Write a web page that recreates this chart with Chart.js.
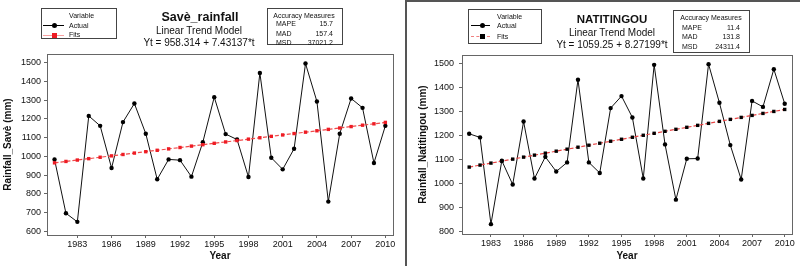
<!DOCTYPE html>
<html>
<head>
<meta charset="utf-8">
<script src="https://cdn.jsdelivr.net/npm/chart.js@4"></script>
<style>
  body { margin: 0; background: #fff; font-family: "Liberation Sans", Arial, sans-serif; }
  #page { position: relative; width: 800px; height: 266px; overflow: hidden; }
  canvas { position: absolute; top: 0; }
  .c { position: absolute; white-space: nowrap; transform: translate(-50%, -50%); color: #111; }
  .l { position: absolute; white-space: nowrap; transform: translate(0, -50%); color: #111; }
  .r { position: absolute; white-space: nowrap; transform: translate(-100%, -50%); color: #111; }
  .box { position: absolute; border: 1px solid #444; background: #fff; overflow: hidden; }
  .small { font-size: 7px; }
  .ln { position: absolute; height: 0; }
</style>
</head>
<body>
<div id="page">
  <canvas id="save" width="400" height="266" style="left:0"></canvas>
  <canvas id="nati" width="392" height="266" style="left:408px"></canvas>

  <!-- right panel frame -->
  <div style="position:absolute;left:405px;top:0;width:2px;height:266px;background:#555"></div>
  <div style="position:absolute;left:405px;top:0;width:395px;height:2px;background:#555"></div>

  <!-- left header -->
  <div class="c" style="left:200px;top:17px;font-size:12.5px;font-weight:bold">Savè_rainfall</div>
  <div class="c" style="left:199px;top:30px;font-size:10px">Linear Trend Model</div>
  <div class="c" style="left:199px;top:42px;font-size:10px">Yt = 958.314 + 7.43137*t</div>

  <div class="box" style="left:41px;top:8px;width:74px;height:29px"></div>
  <div class="l small" style="left:69px;top:15px">Variable</div>
  <div class="ln" style="left:43px;top:25px;width:21px;border-top:1px solid #000"></div>
  <div style="position:absolute;left:52px;top:23px;width:5px;height:5px;border-radius:50%;background:#000"></div>
  <div class="l small" style="left:69px;top:25px">Actual</div>
  <div class="ln" style="left:43px;top:35px;width:21px;border-top:1px solid #f7a0a0"></div>
  <div style="position:absolute;left:52px;top:33px;width:5px;height:5px;background:#ee1c24"></div>
  <div class="l small" style="left:69px;top:35px;height:6px;overflow:hidden;transform:translate(0,-60%)">Fits</div>

  <div class="box" style="left:267px;top:8px;width:74px;height:35px"></div>
  <div class="c small" style="left:304px;top:14.5px">Accuracy Measures</div>
  <div class="l small" style="left:276px;top:23px">MAPE</div>
  <div class="r small" style="left:333px;top:23px">15.7</div>
  <div class="l small" style="left:276px;top:32.5px">MAD</div>
  <div class="r small" style="left:333px;top:32.5px">157.4</div>
  <div class="l small" style="left:276px;top:41.5px">MSD</div>
  <div class="r small" style="left:333px;top:41.5px">37021.2</div>

  <!-- right header -->
  <div class="c" style="left:612px;top:19px;font-size:11.5px;font-weight:bold">NATITINGOU</div>
  <div class="c" style="left:612px;top:32px;font-size:10px">Linear Trend Model</div>
  <div class="c" style="left:612px;top:43.5px;font-size:10px">Yt = 1059.25 + 8.27199*t</div>

  <div class="box" style="left:468px;top:9px;width:72px;height:33px"></div>
  <div class="l small" style="left:497px;top:16px">Variable</div>
  <div class="ln" style="left:471px;top:25px;width:19px;border-top:1px solid #000"></div>
  <div style="position:absolute;left:480px;top:23px;width:5px;height:5px;border-radius:50%;background:#000"></div>
  <div class="l small" style="left:497px;top:25px">Actual</div>
  <div class="ln" style="left:471px;top:36px;width:19px;border-top:1px dashed #f08080"></div>
  <div style="position:absolute;left:480px;top:34px;width:5px;height:5px;background:#000"></div>
  <div class="l small" style="left:497px;top:36px">Fits</div>

  <div class="box" style="left:673px;top:10px;width:75px;height:41px"></div>
  <div class="c small" style="left:711px;top:17px">Accuracy Measures</div>
  <div class="l small" style="left:682px;top:27px">MAPE</div>
  <div class="r small" style="left:740px;top:27px">11.4</div>
  <div class="l small" style="left:682px;top:36px">MAD</div>
  <div class="r small" style="left:740px;top:36px">131.8</div>
  <div class="l small" style="left:682px;top:45.5px">MSD</div>
  <div class="r small" style="left:740px;top:45.5px">24311.4</div>
</div>

<script>
const years = [1981, 1982, 1983, 1984, 1985, 1986, 1987, 1988, 1989, 1990,
  1991, 1992, 1993, 1994, 1995, 1996, 1997, 1998, 1999, 2000,
  2001, 2002, 2003, 2004, 2005, 2006, 2007, 2008, 2009, 2010];

// Savè rainfall (mm)
const saveActual = [984, 697, 651, 1216, 1163, 938, 1183, 1282, 1121, 878,
  984, 980, 892, 1076, 1316, 1119, 1090, 890, 1445, 993,
  931, 1041, 1495, 1293, 759, 1121, 1309, 1259, 965, 1163];
const saveFits = [965.7, 973.2, 980.6, 988.0, 995.5, 1002.9, 1010.3, 1017.8, 1025.2, 1032.6,
  1040.1, 1047.5, 1054.9, 1062.4, 1069.8, 1077.2, 1084.6, 1092.1, 1099.5, 1106.9,
  1114.4, 1121.8, 1129.2, 1136.7, 1144.1, 1151.5, 1159.0, 1166.4, 1173.8, 1181.3];

// Natitingou rainfall (mm)
const natiActual = [1206, 1191, 830, 1094, 995, 1257, 1020, 1110, 1049, 1087,
  1431, 1087, 1043, 1313, 1363, 1274, 1020, 1493, 1162, 932,
  1102, 1103, 1496, 1335, 1159, 1016, 1343, 1318, 1475, 1331];
const natiFits = [1067.5, 1075.8, 1084.1, 1092.3, 1100.6, 1108.9, 1117.2, 1125.4, 1133.7, 1142.0,
  1150.2, 1158.5, 1166.8, 1175.1, 1183.3, 1191.6, 1199.9, 1208.1, 1216.4, 1224.7,
  1233.0, 1241.2, 1249.5, 1257.8, 1266.1, 1274.3, 1282.6, 1290.9, 1299.1, 1307.4];

const yearTicks = [1983, 1986, 1989, 1992, 1995, 1998, 2001, 2004, 2007, 2010];
const saveYTicks = [600, 700, 800, 900, 1000, 1100, 1200, 1300, 1400, 1500];
const natiYTicks = [800, 900, 1000, 1100, 1200, 1300, 1400, 1500];

Chart.defaults.font.family = "Liberation Sans, Arial, sans-serif";
Chart.defaults.color = "#111";

const frame = {
  id: "frame",
  afterDraw(chart) {
    const { ctx, chartArea: a } = chart;
    ctx.save();
    ctx.strokeStyle = "#666";
    ctx.lineWidth = 1;
    ctx.strokeRect(Math.round(a.left) + 0.5, Math.round(a.top) + 0.5,
      Math.round(a.right - a.left), Math.round(a.bottom - a.top));
    ctx.restore();
  },
};

const pts = (vals) => vals.map((v, i) => ({ x: years[i], y: v }));

function trendChart(id, cfg) {
  new Chart(document.getElementById(id), {
    type: "line",
    data: {
      datasets: [
        {
          label: "Fits",
          data: pts(cfg.fits),
          borderColor: cfg.fitLine,
          borderWidth: 1.2,
          borderDash: [4, 2],
          pointStyle: "rect",
          pointRadius: 2.4,
          pointBackgroundColor: cfg.fitPoint,
          pointBorderColor: cfg.fitPoint,
          pointBorderWidth: 0,
        },
        {
          label: "Actual",
          data: pts(cfg.actual),
          borderColor: "#111",
          borderWidth: 1,
          pointRadius: 2.2,
          pointBackgroundColor: "#000",
          pointBorderWidth: 0,
        },
      ],
    },
    options: {
      responsive: false,
      animation: false,
      layout: { padding: { left: 0, top: cfg.top, right: cfg.right, bottom: 0 } },
      plugins: { legend: { display: false }, tooltip: { enabled: false } },
      scales: {
        x: {
          type: "linear",
          min: 1980.34,
          max: 2010.67,
          afterBuildTicks: (s) => { s.ticks = yearTicks.map((v) => ({ value: v })); },
          afterFit: (s) => { s.height = cfg.xh; },
          grid: { drawOnChartArea: false, tickLength: 3, tickColor: "#666" },
          border: { display: false },
          ticks: { font: { size: 9 }, padding: 1, maxRotation: 0, callback: (v) => String(v) },
          title: { display: true, text: "Year", font: { size: 10, weight: "bold" }, padding: { top: 0, bottom: 4 } },
        },
        y: {
          min: cfg.ymin,
          max: cfg.ymax,
          afterBuildTicks: (s) => { s.ticks = cfg.yticks.map((v) => ({ value: v })); },
          afterFit: (s) => { s.width = cfg.yw; },
          grid: { drawOnChartArea: false, tickLength: 3, tickColor: "#666" },
          border: { display: false },
          ticks: { font: { size: 9 }, padding: cfg.ypad, callback: (v) => String(v) },
          title: { display: true, text: cfg.ytitle, font: { size: 10, weight: "bold" }, padding: { top: cfg.ytpad, bottom: 0 } },
        },
      },
    },
    plugins: [frame],
  });
}

trendChart("save", {
  actual: saveActual, fits: saveFits, yticks: saveYTicks,
  ymin: 581, ymax: 1546, top: 54, right: 7, xh: 31, yw: 47, ypad: 3, ytpad: 2.5,
  ytitle: "Rainfall_Savè (mm)", fitLine: "#f04a4a", fitPoint: "#ee1c24",
});

trendChart("nati", {
  actual: natiActual, fits: natiFits, yticks: natiYTicks,
  ymin: 789, ymax: 1534, top: 55, right: 8, xh: 32, yw: 54, ypad: 5, ytpad: 9,
  ytitle: "Rainfall_Natitingou (mm)", fitLine: "#e84545", fitPoint: "#000",
});
</script>
</body>
</html>
